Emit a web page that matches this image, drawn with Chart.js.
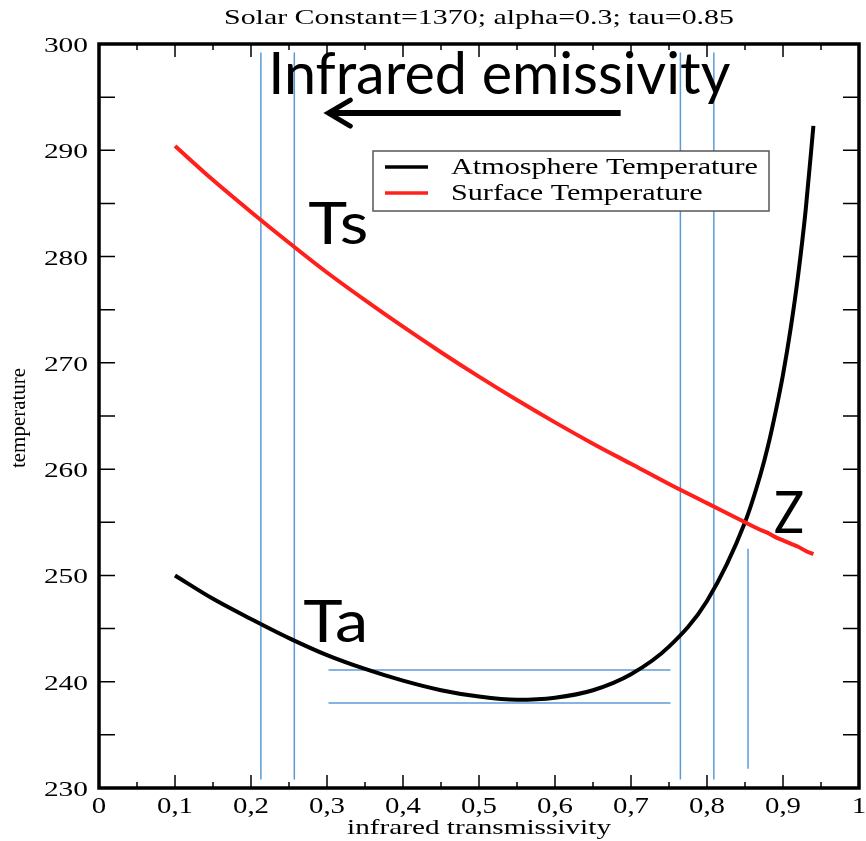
<!DOCTYPE html>
<html>
<head>
<meta charset="utf-8">
<script src="https://cdn.jsdelivr.net/npm/chart.js@4"></script>
<style>
  body { margin: 0; background: #fff; }
  canvas { display: block; }
</style>
</head>
<body>
<canvas id="graph1" width="866" height="841"></canvas>
<script>
// values
const transmissivity = [0.10, 0.15, 0.20, 0.25, 0.30, 0.35, 0.40, 0.45, 0.50, 0.55, 0.60, 0.65,
    0.70, 0.75, 0.80, 0.85, 0.87, 0.88, 0.89, 0.90, 0.91, 0.92, 0.93, 0.94];
const atmosphereTemp = [250.0, 247.8, 245.9, 244.1, 242.5, 241.2, 240.1, 239.2, 238.6, 238.3, 238.5, 239.2,
    240.7, 243.3, 247.6, 255.0, 259.4, 262.1, 265.3, 268.9, 273.2, 278.3, 284.5, 292.3];
const surfaceTemp = [290.4, 287.2, 284.2, 281.3, 278.5, 275.9, 273.4, 271.0, 268.7, 266.5, 264.4, 262.4,
    260.5, 258.6, 256.8, 255.0, 254.3, 254.0, 253.6, 253.3, 253.0, 252.7, 252.3, 252.0];

const seriesNames = ['Atmosphere Temperature', 'Surface Temperature'];

// blue guide lines drawn over the plot
const guideX = [0.213, 0.257, 0.765, 0.809];
const guideRange = [230.8, 299.2];
const crossX = 0.854;
const crossRange = [231.8, 252.5];
const levelY = [241.1, 238.0];
const levelRange = [0.302, 0.752];

const xTicks = { min: 0, max: 1, step: 0.05 };
const yTicks = { min: 230, max: 300, step: 5 };

const BLUE = 'rgb(91,155,213)';
const RED = 'rgb(255,32,28)';

function stretchText(ctx, text, x, y, font, width, align) {
    ctx.font = font;
    const w = ctx.measureText(text).width;
    ctx.save();
    ctx.translate(x, y);
    ctx.scale(width / w, 1);
    ctx.textAlign = align || 'left';
    ctx.fillText(text, 0, 0);
    ctx.restore();
}

function scaleText(ctx, text, x, y, font, sx, align) {
    ctx.font = font;
    ctx.save();
    ctx.translate(x, y);
    ctx.scale(sx, 1);
    ctx.textAlign = align || 'left';
    ctx.fillText(text, 0, 0);
    ctx.restore();
}

function xLabel(v) {
    if (Math.abs(v) < 1e-9) return '0';
    if (Math.abs(v - 1) < 1e-9) return '1';
    return v.toFixed(1).replace('.', ',');
}

const guideSets = [];
guideX.forEach(gx => guideSets.push([{ x: gx, y: guideRange[0] }, { x: gx, y: guideRange[1] }]));
guideSets.push([{ x: crossX, y: crossRange[0] }, { x: crossX, y: crossRange[1] }]);
levelY.forEach(ly => guideSets.push([{ x: levelRange[0], y: ly }, { x: levelRange[1], y: ly }]));

const framePlugin = {
    id: 'frame',
    afterDraw(chart) {
        const ctx = chart.ctx;
        const a = chart.chartArea;
        const xs = chart.scales.x;
        const ys = chart.scales.y;
        ctx.save();
        ctx.strokeStyle = '#000';
        ctx.fillStyle = '#000';

        // inward ticks
        ctx.lineWidth = 1.5;
        xs.ticks.forEach(t => {
            const px = xs.getPixelForValue(t.value);
            const major = Math.round(t.value * 20) % 2 === 0;
            const len = major ? 13 : 6;
            ctx.beginPath();
            ctx.moveTo(px, a.bottom); ctx.lineTo(px, a.bottom - len);
            ctx.moveTo(px, a.top); ctx.lineTo(px, a.top + len);
            ctx.stroke();
        });
        ys.ticks.forEach(t => {
            const py = ys.getPixelForValue(t.value);
            ctx.beginPath();
            ctx.moveTo(a.left, py); ctx.lineTo(a.left + 16, py);
            ctx.moveTo(a.right, py); ctx.lineTo(a.right - 16, py);
            ctx.stroke();
        });

        ctx.lineWidth = 3.5;
        ctx.strokeRect(a.left, a.top, a.right - a.left, a.bottom - a.top);

        // tick labels
        ctx.textBaseline = 'alphabetic';
        xs.ticks.forEach(t => {
            if (Math.round(t.value * 20) % 2 !== 0) return;
            const px = xs.getPixelForValue(t.value);
            scaleText(ctx, xLabel(t.value), px, a.bottom + 25, '24px "Liberation Serif"', 1.2, 'center');
        });
        ys.ticks.forEach(t => {
            if (Math.round(t.value) % 10 !== 0) return;
            const py = ys.getPixelForValue(t.value);
            scaleText(ctx, String(Math.round(t.value)), a.left - 11, py + 8, '21px "Liberation Serif"', 1.4, 'right');
        });

        // titles
        stretchText(ctx, 'Solar Constant=1370; alpha=0.3; tau=0.85', (a.left + a.right) / 2, 24,
            '22px "Liberation Serif"', 510, 'center');
        stretchText(ctx, 'infrared transmissivity', (a.left + a.right) / 2, 834,
            '22px "Liberation Serif"', 264, 'center');
        ctx.save();
        ctx.translate(25, 418);
        ctx.rotate(-Math.PI / 2);
        stretchText(ctx, 'temperature', 0, 0, '21px "Liberation Serif"', 100, 'center');
        ctx.restore();

        // legend box
        ctx.fillStyle = '#fff';
        ctx.fillRect(373, 151, 396, 60);
        ctx.strokeStyle = '#555';
        ctx.lineWidth = 1.5;
        ctx.strokeRect(373, 151, 396, 60);
        const colors = ['#000', RED];
        const rowsY = [167, 193];
        ctx.lineWidth = 3.5;
        seriesNames.forEach((name, i) => {
            ctx.strokeStyle = colors[i];
            ctx.beginPath();
            ctx.moveTo(385, rowsY[i]); ctx.lineTo(428, rowsY[i]);
            ctx.stroke();
        });
        ctx.fillStyle = '#000';
        ctx.font = '24px "Liberation Serif"';
        const s = 307 / ctx.measureText(seriesNames[0]).width;
        scaleText(ctx, seriesNames[0], 451, 174, '24px "Liberation Serif"', s, 'left');
        scaleText(ctx, seriesNames[1], 451, 200, '24px "Liberation Serif"', s, 'left');

        // annotations placed in data coordinates
        const P = (x, y) => [xs.getPixelForValue(x), ys.getPixelForValue(y)];
        const big = '58px Lato';
        let p = P(0.2227, 295.3);
        stretchText(ctx, 'Infrared emissivity', p[0], p[1], big, 462, 'left');
        p = P(0.2754, 281.2);
        stretchText(ctx, 'Ts', p[0], p[1], big, 60, 'left');
        p = P(0.2688, 243.7);
        stretchText(ctx, 'Ta', p[0], p[1], big, 65, 'left');
        p = P(0.888, 254.0);
        stretchText(ctx, 'Z', p[0], p[1], big, 30, 'left');

        // arrow pointing left
        const tail = P(0.6864, 293.5);
        const tip = P(0.3017, 293.5);
        ctx.strokeStyle = '#000';
        ctx.lineWidth = 6;
        ctx.beginPath();
        ctx.moveTo(tail[0], tail[1]); ctx.lineTo(tip[0] + 3, tip[1]);
        ctx.stroke();
        ctx.lineWidth = 5;
        ctx.lineCap = 'round';
        ctx.beginPath();
        ctx.moveTo(tip[0] + 22, tip[1] - 13);
        ctx.lineTo(tip[0], tip[1]);
        ctx.lineTo(tip[0] + 22, tip[1] + 13);
        ctx.stroke();
        ctx.restore();
    }
};

const datasets = [
    {
        label: seriesNames[0],
        data: transmissivity.map((x, i) => ({ x: x, y: atmosphereTemp[i] })),
        borderColor: '#000',
        borderWidth: 4,
        pointRadius: 0,
        cubicInterpolationMode: 'monotone',
        order: 1
    },
    {
        label: seriesNames[1],
        data: transmissivity.map((x, i) => ({ x: x, y: surfaceTemp[i] })),
        borderColor: RED,
        borderWidth: 4,
        pointRadius: 0,
        cubicInterpolationMode: 'monotone',
        order: 0
    }
];
guideSets.forEach(g => datasets.push({
    data: g,
    borderColor: BLUE,
    borderWidth: 1.5,
    pointRadius: 0,
    order: 5
}));

new Chart(document.getElementById('graph1'), {
    type: 'line',
    data: { datasets: datasets },
    options: {
        responsive: false,
        animation: false,
        layout: { padding: { top: 44, right: 7, left: 0, bottom: 0 } },
        plugins: { legend: { display: false }, tooltip: { enabled: false }, title: { display: false } },
        scales: {
            x: {
                type: 'linear',
                min: xTicks.min,
                max: xTicks.max,
                ticks: { stepSize: xTicks.step, display: false },
                grid: { display: false, drawTicks: false },
                border: { display: false },
                afterFit: s => { s.height = 53; }
            },
            y: {
                type: 'linear',
                min: yTicks.min,
                max: yTicks.max,
                ticks: { stepSize: yTicks.step, display: false },
                grid: { display: false, drawTicks: false },
                border: { display: false },
                afterFit: s => { s.width = 99; }
            }
        }
    },
    plugins: [framePlugin]
});
</script>
</body>
</html>
